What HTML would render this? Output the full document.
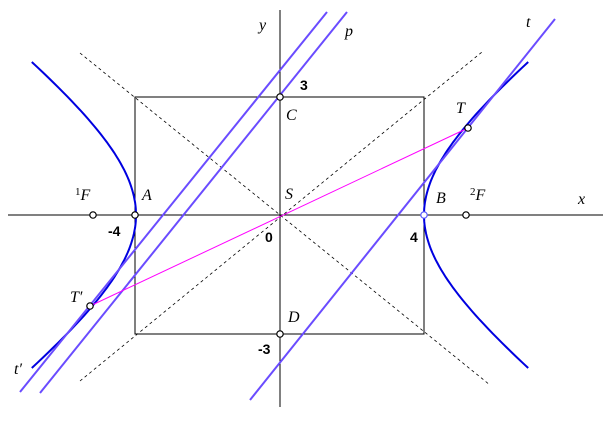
<!DOCTYPE html>
<html><head><meta charset="utf-8"><style>
html,body{margin:0;padding:0;background:#fff;}
svg{display:block;}
text{font-family:"Liberation Serif",serif;font-style:italic;font-size:16px;fill:#000;}
.n{font-family:"Liberation Sans",sans-serif;font-style:normal;font-weight:bold;font-size:14px;}
</style></head><body>
<svg id="s" width="607" height="425" viewBox="0 0 607 425" xmlns="http://www.w3.org/2000/svg">
<line x1="8" y1="215" x2="603" y2="215" stroke="#000" stroke-width="1"/>
<line x1="280" y1="10" x2="280" y2="407" stroke="#000" stroke-width="1"/>
<rect x="135" y="97" width="289" height="237" fill="none" stroke="#000" stroke-width="1"/>
<line x1="80" y1="53" x2="490" y2="385" stroke="#000" stroke-dasharray="3,3" stroke-width="0.8"/>
<line x1="80" y1="381" x2="482" y2="52" stroke="#000" stroke-dasharray="3,3" stroke-width="0.8"/>
<path id="hr" fill="none" stroke="#0000e0" stroke-width="2"/>
<path id="hl" fill="none" stroke="#0000e0" stroke-width="2"/>
<g stroke="#6a4cff" stroke-width="2">
<line x1="20" y1="392" x2="327" y2="12"/>
<line x1="40" y1="393" x2="347" y2="12"/>
<line x1="250" y1="400" x2="555" y2="19"/>
</g>
<line x1="90" y1="306" x2="468" y2="128" stroke="#ff00ff" stroke-width="1"/>
<g fill="#fff" stroke="#000" stroke-width="1.2">
<circle cx="135" cy="215" r="3.2"/><circle cx="424" cy="215" r="3.2" stroke="#5a5aff"/>
<circle cx="280" cy="97" r="3.2"/><circle cx="280" cy="334" r="3.2"/>
<circle cx="468" cy="128" r="3.2"/><circle cx="90" cy="306" r="3.2"/>
<circle cx="93" cy="215" r="3.2"/><circle cx="466" cy="215" r="3.2"/>
</g>
<text x="259" y="30">y</text>
<text x="345" y="36">p</text>
<text x="526" y="27">t</text>
<text x="578" y="204">x</text>
<text x="286" y="120">C</text>
<text x="456" y="113">T</text>
<text x="285" y="199">S</text>
<text x="142" y="200">A</text>
<text x="436" y="203">B</text>
<text x="75" y="200"><tspan font-size="11" dy="-5" font-style="normal">1</tspan><tspan dy="5">F</tspan></text>
<text x="470" y="200"><tspan font-size="11" dy="-5" font-style="normal">2</tspan><tspan dy="5">F</tspan></text>
<text x="288" y="322">D</text>
<text x="70" y="302">T′</text>
<text x="14" y="374">t′</text>
<text class="n" x="300" y="90">3</text>
<text class="n" x="108" y="236">-4</text>
<text class="n" x="265" y="242">0</text>
<text class="n" x="410" y="242">4</text>
<text class="n" x="258" y="354">-3</text>
</svg>
<script>
function h(sign){var d="";for(var i=0;i<=80;i++){var s=-1.14+i*2.28/80;var x=280+sign*144*Math.cosh(s);var y=215-109*Math.sinh(s);d+=(i?"L":"M")+x.toFixed(1)+","+y.toFixed(1);}return d;}
document.getElementById("hr").setAttribute("d",h(1));
document.getElementById("hl").setAttribute("d",h(-1));
</script>
</body></html>
